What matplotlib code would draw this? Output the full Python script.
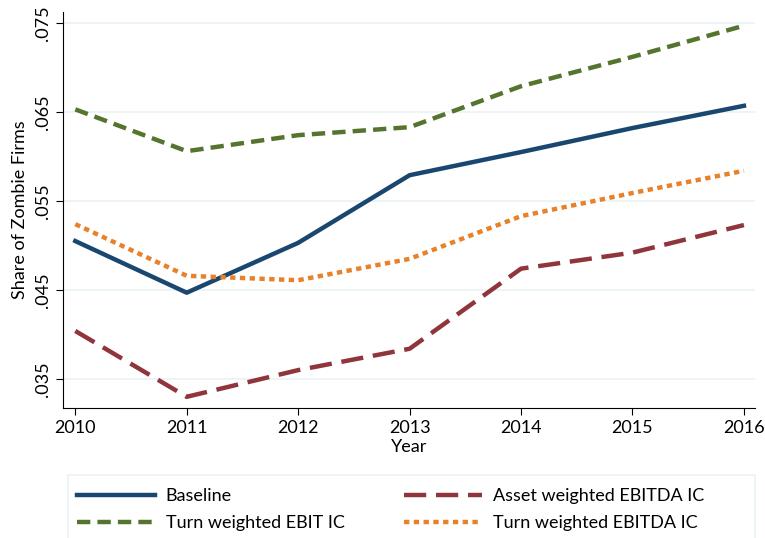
import matplotlib
matplotlib.use('agg')
import matplotlib.pyplot as plt
from matplotlib.patches import Rectangle

years = [2010, 2011, 2012, 2013, 2014, 2015, 2016]
baseline = [0.0505, 0.0447, 0.0503, 0.0579, 0.0605, 0.0632, 0.0657]
asset_ebitda = [0.0404, 0.0330, 0.0360, 0.0384, 0.0474, 0.0492, 0.0523]
turn_ebit = [0.0653, 0.0606, 0.0624, 0.0633, 0.0679, 0.0712, 0.0747]
turn_ebitda = [0.0524, 0.0466, 0.0461, 0.0485, 0.0533, 0.0559, 0.0584]

y_ticks = [0.035, 0.045, 0.055, 0.065, 0.075]
y_labels = ['.035', '.045', '.055', '.065', '.075']

plt.rcParams['font.family'] = ['Lato', 'DejaVu Sans']

fig = plt.figure(figsize=(7.65, 5.38), dpi=100)
ax = fig.add_axes([0.0824, 0.2416, 0.9046, 0.7361])

ax.plot(years, baseline, color='#1a476f', lw=3.2, label='Baseline')
ax.plot(years, turn_ebit, color='#55752f', lw=3.2, dashes=(3, 1.6),
        label='Turn weighted EBIT IC')
ax.plot(years, asset_ebitda, color='#90353b', lw=3.2, dashes=(5, 2.2),
        label='Asset weighted EBITDA IC')
ax.plot(years, turn_ebitda, color='#e8822a', lw=3.2, dashes=(1.2, 1.0),
        label='Turn weighted EBITDA IC')

ax.set_xlim(2009.89, 2016.1)
ax.set_ylim(0.03174, 0.07624)
ax.set_xticks(years)
ax.set_yticks(y_ticks)
ax.set_yticklabels(y_labels, rotation=90, va='center')
ax.tick_params(labelsize=13, length=5, color='black')
ax.grid(axis='y', color='#eaf2f3', lw=1.2)
ax.set_axisbelow(True)
for s in ['top', 'right']:
    ax.spines[s].set_visible(False)
ax.set_xlabel('Year', fontsize=13, labelpad=2)
ax.set_ylabel('Share of Zombie Firms', fontsize=13, labelpad=5)

# legend box
fig.patches.append(Rectangle((68 / 765, -0.01), 687 / 765, 0.127,
                             transform=fig.transFigure, fill=False,
                             edgecolor='#eaf2f3', lw=1.2))
h, l = ax.get_legend_handles_labels()
leg = fig.legend(h, l, ncol=2, loc='upper left',
                 bbox_to_anchor=(70 / 765, 1 - 481 / 538),
                 fontsize=13, frameon=False,
                 handlelength=4.3, handletextpad=0.6, labelspacing=0.62,
                 columnspacing=3.3, borderaxespad=0)

fig.savefig('out.png', dpi=100)
